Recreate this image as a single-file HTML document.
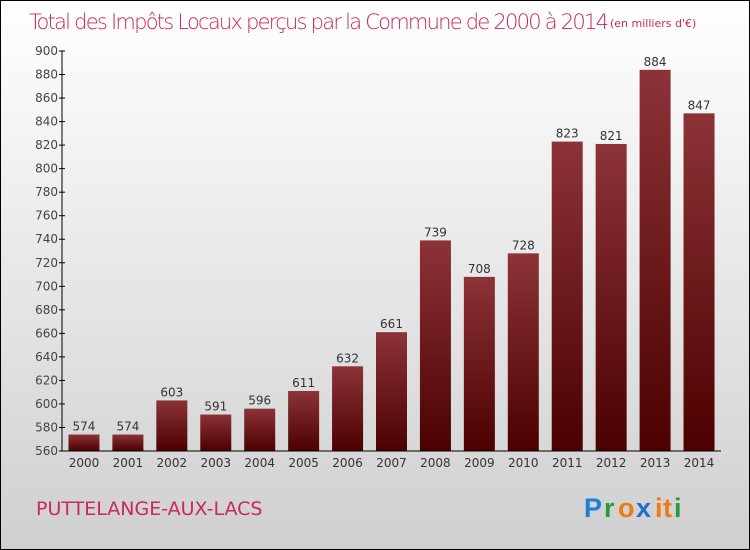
<!DOCTYPE html>
<html><head><meta charset="utf-8"><style>
body{margin:0}
#c{width:748px;height:548px;border:1px solid #000;background:linear-gradient(#fff,#ececec 40%,#cfcfcf);position:relative;overflow:hidden;font-family:"DejaVu Sans","Liberation Sans",sans-serif}
</style></head><body>
<div id="c">
<svg id="s" width="748" height="548">
<defs><linearGradient id="g" x1="0" y1="0" x2="0" y2="1"><stop offset="0" stop-color="#8c3338"/><stop offset="1" stop-color="#4c0000"/></linearGradient></defs>
<text x="28" y="28" font-size="21" fill="#c8285a" font-family="DejaVu Sans" font-weight="200" textLength="580">Total des Impôts Locaux perçus par la Commune de 2000 à 2014</text>
<text x="609" y="26" font-size="11" fill="#c8285a">(en milliers d'€)</text>
<text x="35" y="514" font-size="19" fill="#c8285a">PUTTELANGE-AUX-LACS</text>
<g font-size="27" font-family="Liberation Sans" font-weight="bold">
<text x="583" y="516" fill="#1c7fd8">P</text><text x="603" y="516" fill="#2a9a3a">r</text><text x="617" y="516" fill="#f07a10">o</text><text x="635" y="516" fill="#1c6fd0">x</text><text x="654" y="516" fill="#f07a10">i</text><text x="662" y="516" fill="#f07a10">t</text><text x="673" y="516" fill="#2a9a3a">i</text>
</g>
<g id="plot"></g>
</svg>
</div>
<script>
const years=["2000","2001","2002","2003","2004","2005","2006","2007","2008","2009","2010","2011","2012","2013","2014"];
const values=[574,574,603,591,596,611,632,661,739,708,728,823,821,884,847];
const ticks=[560,580,600,620,640,660,680,700,720,740,760,780,800,820,840,860,880,900];
const NS="http://www.w3.org/2000/svg";
const g=document.getElementById('plot');
const y0=450,y1=50,vmin=560,vmax=900,x0=61,x1=720;
const Y=v=>y0-(v-vmin)/(vmax-vmin)*(y0-y1);
const step=(x1-x0)/years.length;
const X=i=>x0+step*(i+0.5);
function mk(t,a){const e=document.createElementNS(NS,t);for(const k in a)e.setAttribute(k,a[k]);g.appendChild(e);return e;}
ticks.forEach(v=>{
 const l=mk('line',{x1:x0-3,x2:x0+3,y1:Y(v),y2:Y(v),stroke:'#000'});
 
 
 const t=mk('text',{x:x0-4,y:Y(v)+4,'font-size':12,fill:'#444','text-anchor':'end'});
 t.textContent=v;
 
 
});
years.forEach((yr,i)=>{
 const b=mk('rect',{x:X(i)-15.5,y:Y(values[i]),width:31,height:y0-Y(values[i]),fill:'url(#g)'});
 
 
 const v=mk('text',{x:X(i),y:Y(values[i])-4,'font-size':12,fill:'#333','text-anchor':'middle'});
 v.textContent=values[i];
 
 
 const t=mk('text',{x:X(i),y:y0+16,'font-size':12,fill:'#333','text-anchor':'middle'});
 t.textContent=yr;
 
 
});
const ya=mk('line',{x1:x0,x2:x0,y1:y1,y2:y0,stroke:'#000'});


const xa=mk('line',{x1:x0,x2:x1,y1:y0,y2:y0,stroke:'#000'});


</script>
</body></html>
